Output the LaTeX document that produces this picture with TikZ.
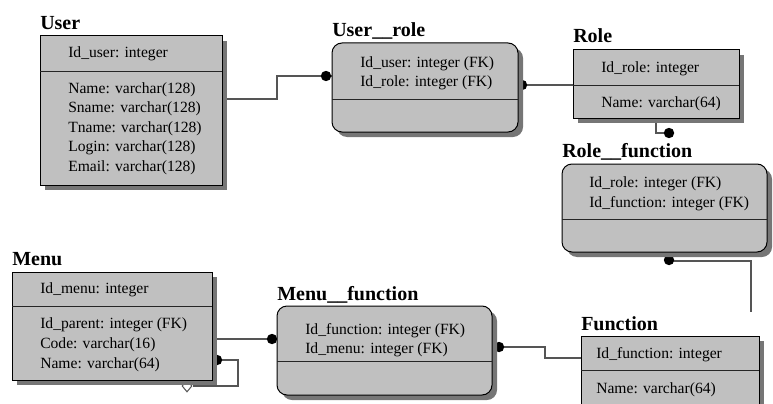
\documentclass[tikz,border=0pt]{standalone}
\usepackage{fontspec}
\setmainfont{Liberation Serif}
\usetikzlibrary{shadows,shapes.geometric}

\definecolor{boxfill}{HTML}{C0C0C0}
\definecolor{shade}{HTML}{767676}
\definecolor{wire}{HTML}{555555}

\pgfdeclarelayer{wires}
\pgfsetlayers{wires,main}

% table box: name, style, left, top, right, bottom, y of the key divider
\newcommand\tablebox[7]{%
  \node[#2, minimum width={(#5-#3)*0.75pt}, minimum height={(#6-#4)*0.75pt},
        anchor=north west] (#1) at (#3,#4) {};
  \draw[divider] (#1.west |- 0,#7) -- (#1.east |- 0,#7);}

\tikzset{
  tbl/.style={draw=black, line width=0.75pt, fill=boxfill, inner sep=0pt, outer sep=0pt,
    drop shadow={shadow xshift=3.75pt, shadow yshift=-3.75pt, fill=shade, opacity=1}},
  rtbl/.style={tbl, rounded corners=7.5pt},
  divider/.style={draw=black!85, line width=0.75pt},
  attr/.style={anchor=base west, inner sep=0pt, font=\fontsize{11.7}{14}\selectfont},
  ttl/.style={anchor=base west, inner sep=0pt, font=\fontsize{15}{18}\selectfont\bfseries},
  conn/.style={draw=wire, line width=0.9pt},
  blob/.style={fill=black},
}

\begin{document}
\begin{tikzpicture}[x=0.75pt,y=-0.75pt]
\useasboundingbox (0,0) rectangle (773,403);

% ---- tables ----
\tablebox{user}{tbl}{40}{36}{222}{185}{71}
\tablebox{urole}{rtbl}{332}{43}{518}{132}{99}
\tablebox{role}{tbl}{573}{50}{739}{118}{85}
\tablebox{rfun}{rtbl}{562}{164}{767}{252}{219}
\tablebox{menu}{tbl}{12}{272}{212}{380}{306}
\tablebox{mfun}{rtbl}{277}{306}{492}{395}{361}
\tablebox{func}{tbl}{581}{336}{759}{425}{370}

% ---- titles ----
\node[ttl] (t-user)  at (40,30)   {User};
\node[ttl] (t-urole) at (332,37)  {User\_\_role};
\node[ttl] (t-role)  at (573,43)  {Role};
\node[ttl] (t-rfun)  at (562,157) {Role\_\_function};
\node[ttl] (t-menu)  at (12,265)  {Menu};
\node[ttl] (t-mfun)  at (277,300) {Menu\_\_function};
\node[ttl] (t-func)  at (581,330) {Function};

% ---- attributes ----
\node[attr] (user-k)  at (68,58)  {Id\_user: integer};
\node[attr] (user-a1) at (68,93)  {Name: varchar(128)};
\node[attr] (user-a2) at (68,112) {Sname: varchar(128)};
\node[attr] (user-a3) at (68,132) {Tname: varchar(128)};
\node[attr] (user-a4) at (68,151) {Login: varchar(128)};
\node[attr] (user-a5) at (68,171) {Email: varchar(128)};

\node[attr] (urole-k1) at (360,67) {Id\_user: integer (FK)};
\node[attr] (urole-k2) at (360,86) {Id\_role: integer (FK)};

\node[attr] (role-k)  at (601,72)  {Id\_role: integer};
\node[attr] (role-a1) at (601,107) {Name: varchar(64)};

\node[attr] (rfun-k1) at (589,187) {Id\_role: integer (FK)};
\node[attr] (rfun-k2) at (589,207) {Id\_function: integer (FK)};

\node[attr] (menu-k)  at (40,293)  {Id\_menu: integer};
\node[attr] (menu-a1) at (40,328)  {Id\_parent: integer (FK)};
\node[attr] (menu-a2) at (40,348)  {Code: varchar(16)};
\node[attr] (menu-a3) at (40,368)  {Name: varchar(64)};

\node[attr] (mfun-k1) at (305,334) {Id\_function: integer (FK)};
\node[attr] (mfun-k2) at (305,353) {Id\_menu: integer (FK)};

\node[attr] (func-k)  at (596,358) {Id\_function: integer};
\node[attr] (func-a1) at (596,393) {Name: varchar(64)};

% ---- relationships, beneath the tables and their shadows ----
\begin{pgfonlayer}{wires}
  % User -> User__role
  \draw[conn] (user.east |- 0,99) -- (277,99) -- (277,76) -- (urole.west |- 0,76);
  \fill[blob] (326,76) circle (3.9pt);
  % Role -> User__role
  \draw[conn] (role.west |- 0,85) -- (urole.east |- 0,85);
  \fill[blob] (522,85) circle (3.9pt);
  % Role -> Role__function
  \coordinate (rfun-in) at (669,133);
  \draw[conn] (role.south -| 656,0) -- (656,133) -- (rfun-in);
  \fill[blob] (rfun-in) circle (3.9pt);
  % Function -> Role__function
  \coordinate (func-in) at (751,312);
  \draw[conn] (rfun.south -| 669,0) -- (669,261) -- (751,261) -- (func-in);
  \fill[blob] (669,260) circle (3.9pt);
  % Function -> Menu__function
  \draw[conn] (mfun.east |- 0,347) -- (545,347) -- (545,358) -- (func.west |- 0,358);
  \fill[blob] (499,347) circle (3.9pt);
  % Menu -> Menu__function
  \draw[conn] (menu.east |- 0,339) -- (mfun.west |- 0,339);
  \fill[blob] (272,339) circle (3.9pt);
  % Menu -> Menu (parent)
  \node[diamond, draw=wire, fill=white, line width=0.75pt, inner sep=0pt,
        minimum width=7.5pt, minimum height=9pt] (menu-self) at (187,386) {};
  \draw[conn] (menu.east |- 0,360) -- (238,360) -- (238,386) -- (menu-self.east);
  \fill[blob] (217,360) circle (3.9pt);
\end{pgfonlayer}
\end{tikzpicture}
\end{document}
